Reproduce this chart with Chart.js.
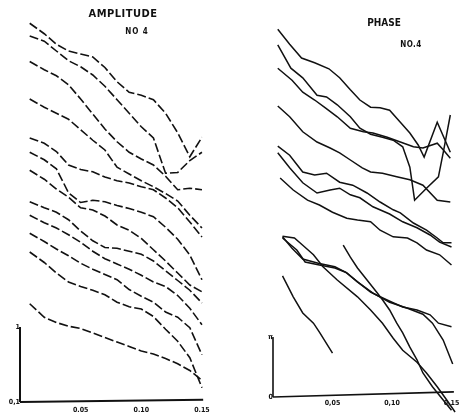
<!DOCTYPE html>
<html><head><meta charset="utf-8">
<script src="https://cdn.jsdelivr.net/npm/chart.js@4.4.0/dist/chart.umd.min.js"></script>
<style>
html,body{margin:0;padding:0;background:#fff;}
#wrap{position:relative;width:459px;height:414px;overflow:hidden;background:#fff;}
canvas{position:absolute;top:0;}
.t{position:absolute;transform:translate(-50%,-50%);font-family:'DejaVu Sans Condensed','DejaVu Sans',sans-serif;font-weight:bold;color:#111;white-space:nowrap;line-height:1;}
</style></head><body>
<div id="wrap">
<canvas id="amp" width="229" height="414" style="left:0"></canvas>
<canvas id="pha" width="230" height="414" style="left:229px"></canvas>
<div class="t" style="left:123px;top:13px;font-size:11px;letter-spacing:0.5px">AMPLITUDE</div>
<div class="t" style="left:137px;top:32px;font-size:8px;letter-spacing:1px">NO 4</div>
<div class="t" style="left:384px;top:23px;font-size:10px">PHASE</div>
<div class="t" style="left:411px;top:45px;font-size:8px;letter-spacing:0.5px">NO.4</div>
</div>
<script>
// ---------- AMPLITUDE (decades above 0.1) ----------
const ampX = [0.008,0.02,0.03,0.04,0.05,0.06,0.07,0.08,0.09,0.10,0.11,0.12,0.13,0.14,0.15];
const amp1  = [5.05,4.91,4.77,4.68,4.64,4.60,4.46,4.27,4.13,4.09,4.03,3.85,3.59,3.27,3.53];
const amp2  = [4.88,4.81,4.68,4.55,4.47,4.36,4.21,4.03,3.85,3.67,3.52,3.05,3.06,3.22,3.33];
const amp3  = [4.54,4.43,4.35,4.23,4.04,3.84,3.64,3.47,3.33,3.24,3.16,3.01,2.83,2.85,2.83];
const amp4  = [4.04,3.93,3.85,3.77,3.63,3.49,3.36,3.13,3.04,2.95,2.87,2.78,2.68,2.49,2.32];
const amp5  = [3.52,3.45,3.34,3.16,3.10,3.07,3.00,2.95,2.92,2.87,2.83,2.72,2.59,2.40,2.20];
const amp6  = [3.33,3.23,3.11,2.79,2.66,2.69,2.67,2.62,2.58,2.53,2.47,2.33,2.17,1.96,1.63];
const amp7  = [3.09,2.97,2.84,2.73,2.59,2.56,2.48,2.36,2.29,2.18,2.03,1.88,1.72,1.56,1.47];
const amp8  = [2.67,2.59,2.53,2.43,2.28,2.15,2.06,2.05,2.01,1.97,1.88,1.75,1.62,1.49,1.32];
const amp9  = [2.49,2.39,2.32,2.23,2.13,2.01,1.91,1.84,1.77,1.69,1.60,1.54,1.42,1.25,1.03];
const amp10 = [2.25,2.14,2.04,1.95,1.85,1.77,1.70,1.63,1.50,1.41,1.33,1.20,1.13,0.99,0.63];
const amp11 = [2.00,1.86,1.72,1.60,1.54,1.49,1.43,1.33,1.27,1.24,1.14,0.97,0.81,0.59,0.19];
const amp12 = [1.31,1.13,1.06,1.01,0.98,0.92,0.86,0.80,0.74,0.68,0.64,0.58,0.51,0.42,0.29];
const ampSeries = [amp1,amp2,amp3,amp4,amp5,amp6,amp7,amp8,amp9,amp10,amp11,amp12];
const ampXTicks = [0.05,0.10,0.15];
const ampXLabels = ['0.05','0.10','0.15'];
const ampYTicks = [0,1];
const ampYLabels = ['0,1','1'];

// ---------- PHASE (units of pi) ----------
const ph1x = [0.004,0.014,0.024,0.035,0.047,0.056,0.065,0.073,0.082,0.090,0.098,0.107,0.115,0.122,0.127,0.138,0.149];
const ph1y = [6.13,5.88,5.65,5.57,5.47,5.32,5.12,4.95,4.83,4.82,4.78,4.58,4.40,4.20,4.00,4.58,4.08];
const ph2x = [0.004,0.015,0.025,0.037,0.045,0.054,0.065,0.073,0.082,0.092,0.101,0.109,0.115,0.119,0.129,0.139,0.143,0.149];
const ph2y = [5.87,5.48,5.32,5.03,5.00,4.87,4.67,4.48,4.38,4.33,4.28,4.17,3.83,3.28,3.48,3.67,4.07,4.70];
const ph3x = [0.004,0.016,0.025,0.035,0.044,0.054,0.065,0.076,0.084,0.096,0.107,0.118,0.126,0.138,0.143,0.149];
const ph3y = [5.48,5.28,5.08,4.95,4.82,4.67,4.48,4.42,4.40,4.33,4.25,4.17,4.15,4.23,4.12,3.98];
const ph4x = [0.004,0.014,0.025,0.037,0.048,0.056,0.065,0.075,0.082,0.092,0.104,0.115,0.126,0.138,0.149];
const ph4y = [4.85,4.67,4.42,4.25,4.15,4.07,3.95,3.82,3.75,3.73,3.67,3.62,3.53,3.28,3.25];
const ph5x = [0.004,0.014,0.025,0.035,0.045,0.056,0.067,0.079,0.090,0.101,0.107,0.118,0.129,0.138,0.143,0.150];
const ph5y = [4.18,4.03,3.75,3.70,3.73,3.58,3.53,3.40,3.25,3.12,3.07,2.90,2.78,2.65,2.57,2.57];
const ph6x = [0.004,0.014,0.025,0.037,0.048,0.056,0.065,0.073,0.084,0.098,0.109,0.121,0.132,0.140,0.150];
const ph6y = [4.07,3.82,3.57,3.40,3.45,3.48,3.37,3.32,3.17,3.05,2.92,2.82,2.70,2.58,2.50];
const ph7x = [0.006,0.017,0.029,0.039,0.050,0.062,0.071,0.082,0.090,0.101,0.113,0.121,0.129,0.140,0.150];
const ph7y = [3.65,3.45,3.28,3.20,3.08,2.98,2.95,2.92,2.78,2.67,2.65,2.57,2.45,2.37,2.20];
const ph8x = [0.008,0.020,0.027,0.039,0.052,0.061,0.071,0.082,0.090,0.100,0.109,0.121,0.132,0.139,0.150];
const ph8y = [2.65,2.45,2.25,2.20,2.15,2.08,1.92,1.75,1.67,1.58,1.50,1.45,1.37,1.23,1.17];
const ph9x = [0.008,0.016,0.025,0.038,0.052,0.062,0.071,0.084,0.098,0.113,0.126,0.134,0.143,0.151];
const ph9y = [2.67,2.48,2.30,2.23,2.17,2.07,1.92,1.73,1.58,1.48,1.38,1.23,0.95,0.55];
const ph10x = [0.008,0.018,0.025,0.034,0.042,0.054,0.071,0.082,0.092,0.101,0.109,0.121,0.129,0.138,0.146,0.153];
const ph10y = [2.68,2.65,2.53,2.37,2.17,1.95,1.67,1.45,1.23,0.98,0.78,0.58,0.40,0.17,-0.05,-0.25];
const ph11x = [0.059,0.065,0.071,0.079,0.087,0.092,0.098,0.104,0.109,0.115,0.121,0.126,0.134,0.143,0.150];
const ph11y = [2.53,2.33,2.15,1.95,1.75,1.62,1.45,1.23,1.07,0.83,0.62,0.40,0.17,-0.05,-0.22];
const ph12x = [0.008,0.017,0.025,0.034,0.039,0.050];
const ph12y = [2.02,1.67,1.40,1.23,1.08,0.73];
const phSeries = [[ph1x,ph1y],[ph2x,ph2y],[ph3x,ph3y],[ph4x,ph4y],[ph5x,ph5y],[ph6x,ph6y],
  [ph7x,ph7y],[ph8x,ph8y],[ph9x,ph9y],[ph10x,ph10y],[ph11x,ph11y],[ph12x,ph12y]];
const phXTicks = [0.05,0.10,0.15];
const phXLabels = ['0,05','0,10','0,15'];
const phYTicks = [0,1];
const phYLabels = ['0','\u03C0'];

const INK = '#111';
const FONT = {family:"'DejaVu Sans Condensed','DejaVu Sans',sans-serif", size:7, weight:'bold'};

function zeroPad(s){ s.paddingLeft=0; s.paddingRight=0; s.paddingTop=0; s.paddingBottom=0; }

function scales(xr, yr, xt, xl, yt, yl, xPad, yPad){
  return {
    x:{type:'linear', min:xr[0], max:xr[1], position:{y:0},
       grid:{display:false, drawTicks:false}, border:{display:false},
       afterBuildTicks:s=>{ s.ticks = xt.map(v=>({value:v})); },
       afterFit:zeroPad,
       ticks:{autoSkip:false, maxRotation:0, minRotation:0, padding:xPad, color:INK, font:FONT,
              callback:(v,i)=>xl[i]}},
    y:{type:'linear', min:yr[0], max:yr[1], position:{x:0},
       grid:{display:false, drawTicks:false}, border:{display:false},
       afterBuildTicks:s=>{ s.ticks = yt.map(v=>({value:v})); },
       afterFit:zeroPad,
       ticks:{autoSkip:false, padding:yPad, color:INK, font:FONT,
              callback:(v,i)=>yl[i]}}
  };
}

const common = {
  responsive:false, animation:false, devicePixelRatio:1,
  layout:{padding:0},
  plugins:{legend:{display:false}, tooltip:{enabled:false}, title:{display:false}},
  elements:{point:{radius:0}, line:{tension:0}}
};

// amplitude chart
const ampDatasets = ampSeries.map(arr=>({
  data: ampX.map((x,i)=>({x:x, y:arr[i]})),
  borderColor:INK, borderWidth:1.6, borderDash:[9,3], fill:false
}));
ampDatasets.push({data:[{x:0,y:0},{x:0,y:1}], borderColor:INK, borderWidth:2, fill:false});
ampDatasets.push({data:[{x:0,y:0},{x:0.151,y:0.03}], borderColor:INK, borderWidth:2, fill:false});

new Chart(document.getElementById('amp'), {
  type:'line',
  data:{datasets:ampDatasets},
  options:Object.assign({}, common, {
    scales: scales([-20/1213, 209/1213], [-12/75, 402/75], ampXTicks, ampXLabels, ampYTicks, ampYLabels, 4, 5)
  })
});

// phase chart
const phDatasets = phSeries.map(([xs,ys])=>({
  data: xs.map((x,i)=>({x:x, y:ys[i]})),
  borderColor:INK, borderWidth:1.5, fill:false
}));
phDatasets.push({data:[{x:0,y:0},{x:0,y:1}], borderColor:INK, borderWidth:1.6, fill:false});
phDatasets.push({data:[{x:0,y:0},{x:0.152,y:0.085}], borderColor:INK, borderWidth:1.6, fill:false});

new Chart(document.getElementById('pha'), {
  type:'line',
  data:{datasets:phDatasets},
  options:Object.assign({}, common, {
    scales: scales([-44/1190, 186/1190], [-17/60, 397/60], phXTicks, phXLabels, phYTicks, phYLabels, 2, 6)
  })
});
</script>
</body></html>
